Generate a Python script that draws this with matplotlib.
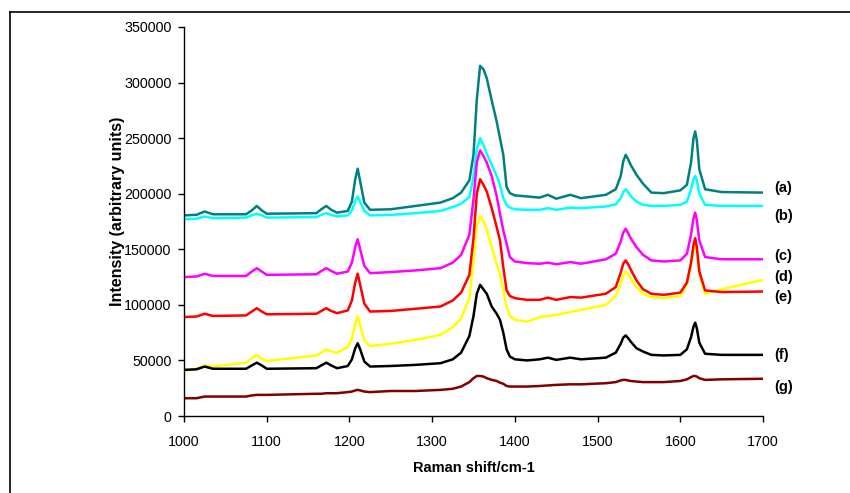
import matplotlib
matplotlib.use("Agg")
import matplotlib.pyplot as plt
from matplotlib.lines import Line2D

plt.rcParams['font.family'] = ['Liberation Sans', 'DejaVu Sans']

# Raman shift grid (cm-1)
wavenumber = [1000, 1015, 1025, 1035, 1075,
              1082, 1088, 1094, 1100,
              1160, 1166, 1172, 1178, 1185,
              1198, 1203, 1207, 1210, 1213, 1218, 1225,
              1250, 1280, 1310, 1325, 1335, 1345,
              1350, 1354, 1358, 1362, 1366, 1372, 1378, 1382, 1386, 1390, 1394,
              1400, 1415, 1430, 1440, 1450, 1467, 1480, 1510, 1522,
              1528, 1531, 1534, 1537, 1540, 1547, 1555, 1565, 1580, 1600,
              1608, 1613, 1616, 1618, 1620, 1623, 1630, 1650, 1700]

spec_a = [180500, 181000, 184000, 181500, 181500,
          185000, 189000, 185000, 182000,
          182500, 186000, 189000, 185500, 183000,
          184500, 193000, 213000, 222500, 211000, 192000, 185500,
          186000, 189000, 192000, 196000, 201000, 212000,
          235000, 285000, 315000, 312000, 304000, 284000, 265000, 250000, 235000, 206000, 200500,
          198500, 197500, 196500, 199000, 195500, 199000, 196000, 199000, 204000,
          216000, 229000, 235000, 231000, 226000, 217000, 209000, 201000, 200500, 203000,
          208000, 228000, 250000, 256000, 248000, 222000, 204000, 201500, 201000]

spec_b = [177000, 177500, 179500, 178000, 178500,
          180500, 182000, 180500, 178500,
          179000, 181000, 182500, 181000, 179500,
          180500, 185000, 193500, 197500, 192500, 184500, 180500,
          181000, 182500, 184500, 188000, 191000, 197000,
          215000, 240000, 250000, 244000, 236000, 226000, 216000, 208000, 196000, 190000, 187500,
          186000, 185500, 185500, 187000, 185500, 187500, 187000, 188500, 190500,
          196000, 201500, 204000, 201500, 198000, 193000, 190000, 189000, 189000, 190000,
          193000, 204000, 213000, 216000, 212000, 200000, 190000, 189000, 189000]

spec_c = [125000, 125500, 128000, 126000, 126000,
          130000, 133000, 130000, 127000,
          127500, 130500, 133000, 130500, 128000,
          130000, 138000, 152000, 159000, 150000, 135000, 128500,
          129500, 131000, 133000, 138000, 145000, 163000,
          195000, 228000, 239000, 234000, 228000, 216000, 198000, 182000, 167000, 155000, 143000,
          139000, 137500, 137000, 138000, 136500, 138500, 137000, 141000, 146000,
          157000, 165000, 168500, 164500, 160000, 152000, 145000, 140000, 139000, 140000,
          146000, 163000, 178000, 183000, 176000, 158000, 143000, 141000, 141000]

spec_d = [41000, 42500, 45500, 44500, 48000,
          52000, 55000, 51500, 49500,
          54500, 57000, 60000, 58000, 57000,
          62000, 70000, 83000, 90000, 82000, 68000, 63000,
          65000, 68500, 73000, 80000, 88000, 106000,
          140000, 172000, 180000, 175000, 168000, 152000, 137000, 128000, 113000, 98000, 90000,
          86500, 85000, 89000, 90000, 91000, 93500, 95500, 100000, 108000,
          119000, 126500, 130000, 127000, 124000, 116000, 110000, 107000, 106000, 108000,
          118000, 136000, 150000, 156000, 148000, 128000, 110000, 114000, 122500]

spec_e = [89000, 89500, 92000, 90000, 90500,
          94000, 97000, 94000, 91500,
          92000, 94500, 97000, 94500, 92500,
          95000, 104000, 120000, 128000, 118000, 101000, 94000,
          94500, 96500, 98500, 104000, 111000, 127000,
          160000, 200000, 213000, 208000, 202000, 187000, 170000, 158000, 134000, 113000, 108000,
          106000, 104500, 104500, 106500, 104500, 107000, 106500, 110000, 116000,
          129000, 137000, 140000, 136500, 132000, 122000, 114000, 110000, 109000, 111000,
          120000, 138000, 154000, 160000, 152000, 130000, 113000, 111500, 112000]

spec_f = [41500, 42000, 44500, 42500, 42500,
          45500, 48000, 45500, 42500,
          43000, 45500, 48000, 45500, 43000,
          45000, 51000, 61000, 65500, 60000, 49000, 44500,
          45000, 46000, 47500, 51000, 57000, 72000,
          90000, 110000, 118000, 114000, 110000, 98500, 92000, 86500, 75000, 60000, 53500,
          51000, 50000, 51000, 52500, 50500, 52500, 51000, 52500, 57000,
          65000, 70500, 72500, 70000, 67000, 61000, 58000, 55000, 54500, 55000,
          60000, 71000, 80500, 84000, 79000, 66000, 56000, 55000, 55000]

spec_g = [16000, 16000, 17500, 17500, 17500,
          18500, 19000, 19000, 19000,
          20000, 20000, 20500, 20500, 20500,
          21500, 22000, 23000, 23500, 23000, 22000, 21500,
          22500, 22500, 23500, 24500, 26500, 30500,
          34000, 36000, 36000, 35500, 34000, 32500, 31500, 30000, 29000, 27000, 26500,
          26500, 26500, 27000, 27500, 28000, 28500, 28500, 29500, 30500,
          32000, 32500, 32500, 32000, 31500, 31000, 30500, 30500, 30500, 31500,
          33000, 35000, 36000, 36000, 35500, 34000, 32500, 33000, 33500]

labels = ['(a)', '(b)', '(c)', '(d)', '(e)', '(f)', '(g)']
label_y = [205200, 180000, 144000, 125100, 107100, 54900, 26100]
colors = ['#008080', '#00FFFF', '#FF00FF', '#FFFF00', '#FF0000', '#000000', '#800000']
series = [spec_a, spec_b, spec_c, spec_d, spec_e, spec_f, spec_g]

fig = plt.figure(figsize=(8.5, 4.93), dpi=100)
ax = fig.add_axes([184/850, 1-416/493, 579/850, 389/493])

for ys, c in zip(series, colors):
    ax.plot(wavenumber, ys, color=c, lw=1.8, solid_joinstyle='round')

for lab, ly in zip(labels, label_y):
    ax.text(1713, ly, lab, fontsize=10.5, fontweight='bold', ha='left', va='center', clip_on=False)

ax.set_xlim(1000, 1700)
ax.set_ylim(0, 350000)
ax.set_xticks(range(1000, 1701, 100))
ax.set_yticks(range(0, 350001, 50000))
ax.set_yticklabels([str(v) for v in range(0, 350001, 50000)])
ax.tick_params(axis='both', direction='out', length=4, width=1, labelsize=10.3)
ax.tick_params(axis='x', pad=10)
ax.tick_params(axis='y', pad=5)
for s in ['top', 'right']:
    ax.spines[s].set_visible(False)
for s in ['left', 'bottom']:
    ax.spines[s].set_linewidth(1)

ax.set_xlabel('Raman shift/cm-1', fontsize=10.5, fontweight='bold')
ax.xaxis.label.set_va('center')
ax.xaxis.set_label_coords(0.5, -0.1337)
ax.set_ylabel('Intensity (arbitrary units)', fontsize=11.5, fontweight='bold')
ax.yaxis.label.set_va('center')
ax.yaxis.set_label_coords(-0.114, 0.527)

# figure frame (left and top edges visible)
fig.add_artist(Line2D([10/850, 10/850], [0, 1-12/493], transform=fig.transFigure, color='black', lw=1.2))
fig.add_artist(Line2D([10/850, 1], [1-12/493, 1-12/493], transform=fig.transFigure, color='black', lw=1.2))

fig.savefig('out.png', dpi=100)
